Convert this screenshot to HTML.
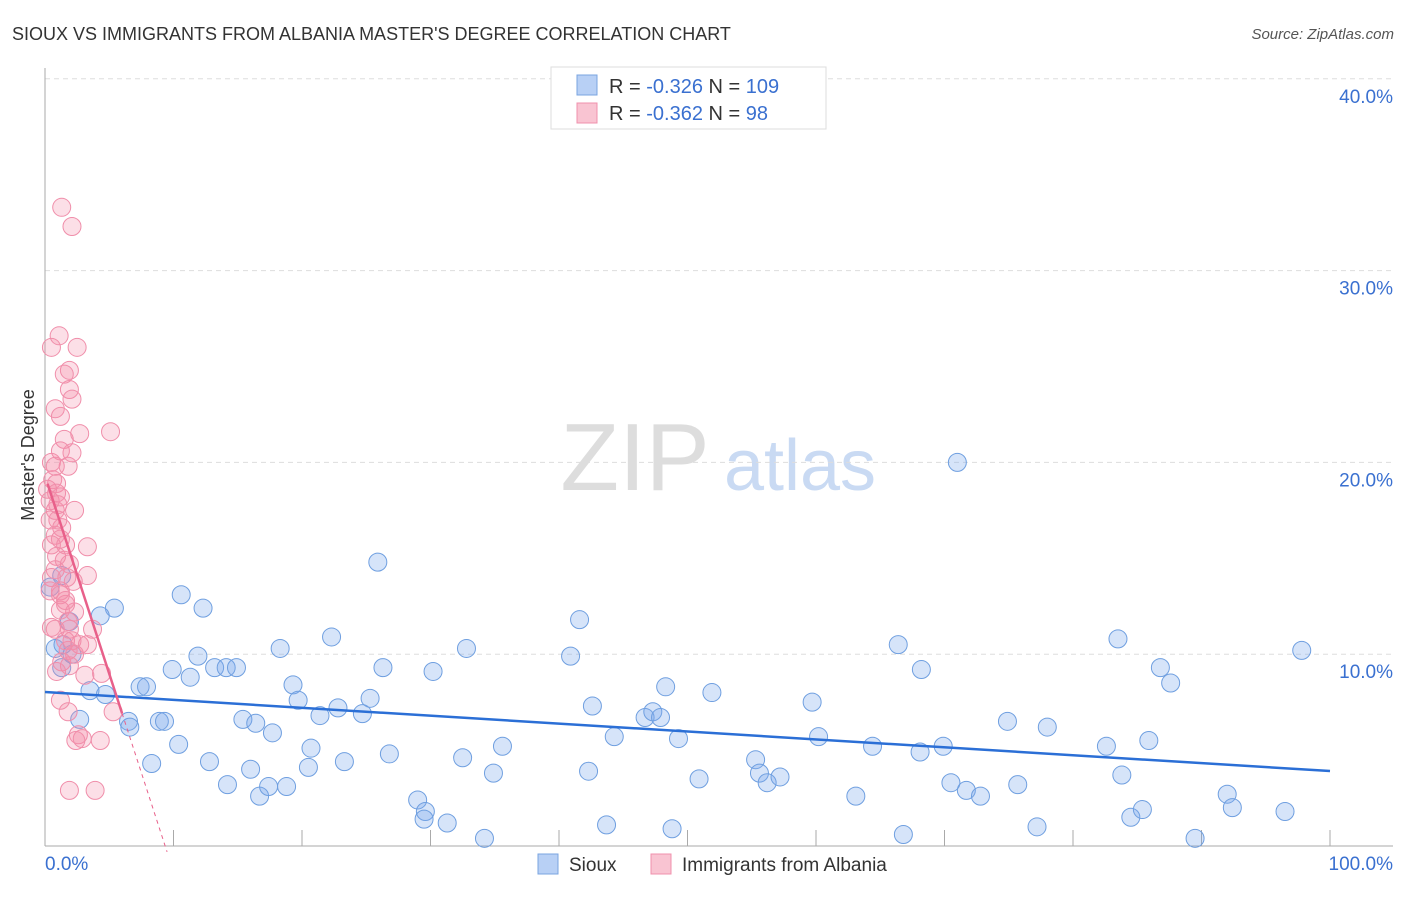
<!DOCTYPE html>
<html><head><meta charset="utf-8"><style>
body{margin:0;background:#fff;font-family:"Liberation Sans",sans-serif;}
svg text{font-family:"Liberation Sans",sans-serif;}
</style></head><body>
<svg id="c" width="1406" height="892" viewBox="0 0 1406 892">
<text x="12" y="40" font-size="18" fill="#333">SIOUX VS IMMIGRANTS FROM ALBANIA MASTER'S DEGREE CORRELATION CHART</text>
<text x="1394" y="39" font-size="15" fill="#555" font-style="italic" text-anchor="end">Source: ZipAtlas.com</text>
<g>
<text x="635" y="490" font-size="96" fill="#ddd" font-family="Liberation Serif" text-anchor="middle">ZIP</text>
<text x="800" y="490" font-size="72" fill="#c9daf3" text-anchor="middle">atlas</text>
</g>
<g id="grid"></g>
<g id="axes"></g>
<g id="pts"></g>
<g id="lines"></g>
<text transform="translate(34,455) rotate(-90)" font-size="18" fill="#333" text-anchor="middle">Master's Degree</text>
<g>
<rect x="551" y="67" width="275" height="62" fill="#fff" stroke="#ddd"/>
<rect x="577" y="75" width="20" height="20" fill="#b8d0f5" stroke="#7aa4e0"/>
<rect x="577" y="103" width="20" height="20" fill="#f9c4d2" stroke="#f090ac"/>
<text x="609" y="93" font-size="20" fill="#333">R = <tspan fill="#3a70d0">-0.326</tspan>   N = <tspan fill="#3a70d0">109</tspan></text>
<text x="609" y="120" font-size="20" fill="#333">R = <tspan fill="#3a70d0">-0.362</tspan>   N = <tspan fill="#3a70d0">  98</tspan></text>
</g>
<g>
<rect x="538" y="854" width="20" height="20" fill="#b8d0f5" stroke="#7aa4e0"/>
<text x="569" y="871" font-size="19" fill="#333">Sioux</text>
<rect x="651" y="854" width="20" height="20" fill="#f9c4d2" stroke="#f090ac"/>
<text x="682" y="871" font-size="19" fill="#333">Immigrants from Albania</text>
</g>
</svg>
<script>
const xTicksLabels=["0.0%","100.0%"];
const yTicks=[10,20,30,40];
const yTickLabels=["10.0%","20.0%","30.0%","40.0%"];
const siouxX=[71.0,25.9,10.6,12.3,5.4,4.3,41.6,22.3,18.3,11.9,9.9,13.2,14.1,14.9,11.3,7.4,7.9,4.7,3.5,26.3,30.2,32.8,40.9,19.3,19.7,25.3,22.8,21.4,24.7,15.4,16.4,17.7,8.9,9.3,6.5,6.6,10.4,8.3,12.8,16.0,14.2,16.7,17.4,18.8,20.7,20.5,23.3,26.8,29.0,29.6,29.5,31.3,34.2,32.5,34.9,35.6,42.3,42.6,44.3,43.7,46.7,47.3,47.9,48.3,49.3,50.9,51.9,48.8,55.3,55.6,56.2,57.2,59.7,60.2,63.1,64.4,66.4,66.8,68.1,68.2,69.9,70.5,71.7,72.8,74.9,75.7,77.2,78.0,82.6,83.5,83.8,84.5,85.4,85.9,86.8,87.6,89.5,92.0,92.4,96.5,97.8,0.4,0.8,1.3,1.3,1.9,2.1,2.7,1.4];
const siouxY=[20.0,14.8,13.1,12.4,12.4,12.0,11.8,10.9,10.3,9.9,9.2,9.3,9.3,9.3,8.8,8.3,8.3,7.9,8.1,9.3,9.1,10.3,9.9,8.4,7.6,7.7,7.2,6.8,6.9,6.6,6.4,5.9,6.5,6.5,6.5,6.2,5.3,4.3,4.4,4.0,3.2,2.6,3.1,3.1,5.1,4.1,4.4,4.8,2.4,1.8,1.4,1.2,0.4,4.6,3.8,5.2,3.9,7.3,5.7,1.1,6.7,7.0,6.7,8.3,5.6,3.5,8.0,0.9,4.5,3.8,3.3,3.6,7.5,5.7,2.6,5.2,10.5,0.6,4.9,9.2,5.2,3.3,2.9,2.6,6.5,3.2,1.0,6.2,5.2,10.8,3.7,1.5,1.9,5.5,9.3,8.5,0.4,2.7,2.0,1.8,10.2,13.5,10.3,9.3,14.1,11.7,10.0,6.6,10.5];
const albX=[1.3,2.1,0.5,1.1,2.5,1.9,1.5,1.9,2.1,0.8,1.2,1.5,2.7,5.1,2.1,1.8,0.5,0.8,0.6,0.9,0.2,0.9,0.4,1.2,0.8,2.3,0.4,1.3,0.8,1.2,0.5,1.6,3.3,0.9,1.5,1.9,0.8,3.3,1.7,0.5,2.2,1.2,1.6,1.2,2.3,1.8,0.8,1.9,3.7,1.6,2.1,2.7,3.3,1.8,2.3,1.3,1.9,0.9,4.4,3.1,1.2,1.8,5.3,2.6,2.9,2.4,4.3,1.9,3.9,0.5,1.2,1.0,1.2,0.4,1.0,1.6];
const albY=[33.3,32.3,26.0,26.6,26.0,24.8,24.6,23.8,23.3,22.8,22.4,21.2,21.5,21.6,20.5,19.8,20.0,19.8,19.1,18.9,18.6,18.4,18.0,18.2,17.5,17.5,17.0,16.6,16.2,16.0,15.7,15.7,15.6,15.1,14.9,14.7,14.4,14.1,14.0,14.0,13.8,13.1,12.6,12.3,12.2,11.7,11.3,11.3,11.3,10.7,10.7,10.5,10.5,10.2,10.0,9.6,9.4,9.1,9.0,8.9,7.6,7.0,7.0,5.8,5.6,5.5,5.5,2.9,2.9,11.4,13.3,17.0,20.6,13.3,17.8,12.8];
const siouxTrend=[8.03,3.91];
const albTrend=[19.3,-2.064];

const NS="http://www.w3.org/2000/svg";
const X0=45,X1=1330,Y0=846,PY=19.18;
const sx=v=>X0+(X1-X0)*v/100;
const sy=v=>Y0-v*PY;
function mk(t,a,p){const e=document.createElementNS(NS,t);for(const k in a)e.setAttribute(k,a[k]);p.appendChild(e);return e;}
const grid=document.getElementById('grid'),axes=document.getElementById('axes'),pts=document.getElementById('pts'),lines=document.getElementById('lines');
yTicks.forEach((t,i)=>{
 const l=mk('line',{x1:X0,x2:1393,y1:sy(t),y2:sy(t),stroke:'#ddd','stroke-dasharray':'5,4'},grid);
 
 
 const tx=mk('text',{x:1393,y:sy(t)+24,'font-size':19,fill:'#3a70d0','text-anchor':'end'},axes);
 tx.textContent=yTickLabels[i];
 
 
});
const ax=mk('line',{x1:X0,x2:X0,y1:68,y2:Y0,stroke:'#aaa'},axes);


const bx=mk('line',{x1:X0,x2:1393,y1:Y0,y2:Y0,stroke:'#aaa'},axes);


for(let i=1;i<=10;i++){const t=mk('line',{x1:sx(i*10),x2:sx(i*10),y1:Y0,y2:Y0-16,stroke:'#aaa'},axes);
 
 }
[[0,'start',45],[100,'end',1393]].forEach((d,i)=>{const t=mk('text',{x:d[2],y:870,'font-size':19,fill:'#3a70d0','text-anchor':d[1]},axes);t.textContent=xTicksLabels[i];
 
 });
siouxX.forEach((x,i)=>{const c=mk('circle',{cx:sx(x),cy:sy(siouxY[i]),r:9,fill:'rgba(120,165,235,0.3)',stroke:'#6f9fe0','stroke-width':1},pts);
 
 });
albX.forEach((x,i)=>{const c=mk('circle',{cx:sx(x),cy:sy(albY[i]),r:9,fill:'rgba(245,140,170,0.28)',stroke:'#f08eaa','stroke-width':1},pts);
 
 });
const bl=mk('line',{x1:sx(0),y1:sy(siouxTrend[0]),x2:sx(100),y2:sy(siouxTrend[1]),stroke:'#2b6fd6','stroke-width':2.5},lines);


const pa=x=>albTrend[0]+albTrend[1]*x;
const pl=mk('line',{x1:sx(0.2),y1:sy(pa(0.2)),x2:sx(6),y2:sy(pa(6)),stroke:'#e8608a','stroke-width':2.5},lines);


const pd=mk('line',{x1:sx(6),y1:sy(pa(6)),x2:sx(9.5),y2:sy(pa(9.5)),stroke:'#e8608a','stroke-width':1,'stroke-dasharray':'4,4'},lines);


</script>
</body></html>
